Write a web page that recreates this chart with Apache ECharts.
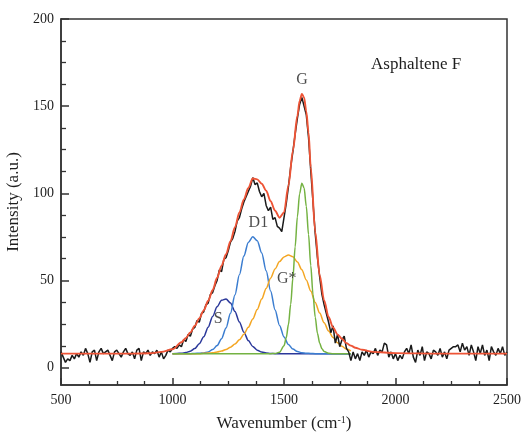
<!DOCTYPE html>
<html><head><meta charset="utf-8">
<script src="https://cdn.jsdelivr.net/npm/echarts@6/dist/echarts.min.js"></script>
<style>html,body{margin:0;padding:0;background:#fff}#c{width:529px;height:434px}</style>
</head><body><div id="c"></div>
<script>
// ---- data ----
const xTicks = [500, 1000, 1500, 2000, 2500];
const yTicks = [0, 50, 100, 150, 200];
const yMinorTicks = [12.5, 25, 37.5, 62.5, 75, 87.5, 112.5, 125, 137.5, 162.5, 175, 187.5];

const rawX = [500,510,520,530,540,550,560,570,580,590,600,610,620,630,640,650,660,670,680,690,700,710,720,730,740,750,760,770,780,790,800,810,820,830,840,850,860,870,880,890,900,910,920,930,940,950,960,970,980,990,1000,1010,1020,1030,1040,1050,1060,1070,1080,1090,1100,1110,1120,1130,1140,1150,1160,1170,1180,1190,1200,1210,1220,1230,1240,1250,1260,1270,1280,1290,1300,1310,1320,1330,1340,1350,1360,1370,1380,1390,1400,1410,1420,1430,1440,1450,1460,1470,1480,1490,1500,1510,1520,1530,1540,1550,1560,1570,1580,1590,1600,1610,1620,1630,1640,1650,1660,1670,1680,1690,1700,1710,1720,1730,1740,1750,1760,1770,1780,1790,1800,1810,1820,1830,1840,1850,1860,1870,1880,1890,1900,1910,1920,1930,1940,1950,1960,1970,1980,1990,2000,2010,2020,2030,2040,2050,2060,2070,2080,2090,2100,2110,2120,2130,2140,2150,2160,2170,2180,2190,2200,2210,2220,2230,2240,2250,2260,2270,2280,2290,2300,2310,2320,2330,2340,2350,2360,2370,2380,2390,2400,2410,2420,2430,2440,2450,2460,2470,2480,2490,2500];
const rawY = [9,6,3,5,4,7,5,8,6,9,
  7,11,8,3,9,10,4,9,11,8,
  9,10,7,4,9,10,8,6,9,11,
  8,7,9,5,10,11,4,9,8,10,
  7,9,8,10,6,9,5,7,10,9,
  11,12,11,13,12,16,15,19,18,22,
  23,27,26,31,32,36,37,42,43,47,
  50,56,55,62,63,67,72,74,78,84,
  86,91,95,98,101,104,109,105,106,101,
  98,100,93,90,92,85,86,81,80,78,
  86,94,104,115,124,134,143,151,155,150,
  145,132,113,95,77,63,52,42,36,31,
  26,20,24,14,19,12,16,18,11,9,
  4,9,5,8,4,9,7,10,6,9,
  8,11,7,10,9,14,13,6,9,5,
  8,4,7,5,9,11,8,13,6,3,
  10,7,12,4,9,8,5,10,9,7,
  11,6,9,5,10,11,12,12,13,9,
  14,10,12,7,13,9,4,12,8,13,
  7,10,4,12,9,7,11,8,12,7,
  9];

const fitX = [500,600,700,800,900,950,1000,1040,1060,1080,1100,1120,1140,1160,1180,1200,1220,1240,1260,1280,1300,1320,1340,1360,1380,1400,1420,1440,1460,1480,1500,1520,1540,1560,1570,1580,1590,1600,1610,1620,1640,1660,1680,1700,1720,1740,1760,1780,1800,1820,1850,1900,2000,2200,2500];
const fitY = [8,8,8,8,8.2,9.0,10.5,14.5,17,20.2,24,28.2,32.8,38.3,44.5,51.5,58.5,65,72.5,80.5,89,96.5,103,108.5,108,105.5,101.5,95.5,90,86,89,104.5,124.5,144.5,153,157,155,147,135,115,78,53,38.5,29,23,19,16.5,14,12.6,11.4,10.2,9,8.3,8,8];

const compX = [1000,1020,1040,1060,1080,1100,1120,1140,1160,1180,1200,1220,1240,1260,1280,1300,1320,1340,1360,1380,1400,1420,1440,1460,1480,1500,1520,1540,1560,1580,1600,1620,1640,1660,1680,1700,1720,1740,1760,1780,1800];
const sY = [8,8.1,8.2,8.6,9.4,10.9,13.6,17.7,23.2,29.3,34.9,38.6,39.4,37.0,32.2,26.2,20.3,15.5,12.1,10.0,8.9,8.4,8.1,8,8,8,8,8,8,8,8,8,8,8,8,8,8,8,8,8,8];
const d1Y = [8,8,8,8,8,8.1,8.2,8.4,9.0,10.3,12.6,16.6,22.7,31.2,41.7,53.3,64.0,71.8,75.0,72.8,65.8,55.5,44.0,33.1,24.2,17.6,13.2,10.6,9.2,8.5,8.2,8.1,8,8,8,8,8,8,8,8,8];
const gStarY = [8,8,8,8,8,8,8,8.2,8.3,8.5,8.9,9.5,10.4,11.7,13.5,15.9,19.1,23.1,27.9,33.3,39.3,45.4,51.3,56.6,60.8,63.5,64.6,63.6,60.6,56.1,50.3,43.9,37.4,31.3,25.7,21.0,17.2,14.3,12.2,10.6,9.6];
const gX = [1000,1440,1460,1480,1500,1510,1520,1530,1540,1550,1560,1570,1580,1590,1600,1610,1620,1630,1640,1650,1660,1670,1680,1700,1720,1800];
const gY = [8,8,8.1,8.8,12.5,17.1,24.8,36.3,51.6,69.3,86.5,99.7,105.8,103.2,92.5,76.4,58.5,42.0,28.9,19.7,14.0,10.8,9.2,8.2,8,8];

const peakNames = ['S', 'D1', 'G*', 'G'];
const peakAtX = [1205, 1385, 1512, 1581];
const peakAtY = [27.7, 83, 51, 165];

// ---- chart ----
const serif = '"Liberation Serif","Times New Roman",serif';
const zip = (xs, ys) => xs.map((x, i) => [x, ys[i]]);
const axisCol = '#333';
const txtCol = '#1e1e1e';
const chart = echarts.init(document.getElementById('c'), null, {renderer: 'canvas'});
const comp = (name, xs, ys, color) => ({
  name, type: 'line', data: zip(xs, ys), showSymbol: false, smooth: 0.3, smoothMonotone: 'x',
  lineStyle: {color, width: 1.5}, z: 2, silent: true
});
chart.setOption({
  animation: false,
  backgroundColor: '#fff',
  title: {text: 'Asphaltene F', left: 366, top: 51,
    textStyle: {fontFamily: serif, fontSize: 17, fontWeight: 'normal', color: txtCol}},
  grid: {left: 61, right: 22, top: 19, bottom: 49, show: true, borderColor: axisCol, borderWidth: 1.5,
    outerBoundsMode: 'none', containLabel: false},
  xAxis: {
    type: 'value', min: 500, max: 2500, interval: 500,
    axisLine: {onZero: false, lineStyle: {color: axisCol, width: 1.5}},
    axisTick: {inside: true, length: 7, lineStyle: {color: axisCol, width: 1.5}},
    minorTick: {show: true, splitNumber: 4, length: 4, lineStyle: {color: axisCol, width: 1.3}},
    splitLine: {show: false}, minorSplitLine: {show: false},
    axisLabel: {fontFamily: serif, fontSize: 14, color: txtCol, margin: 8,
      formatter: v => String(v)},
    name: 'Wavenumber (cm{sup|-1})', nameLocation: 'middle', nameGap: 30,
    nameTextStyle: {fontFamily: serif, fontSize: 17, color: txtCol,
      rich: {sup: {fontFamily: serif, fontSize: 10, color: txtCol, verticalAlign: 'top', padding: [0, 0, 8, 0]}}}
  },
  yAxis: [{
    type: 'value', min: -10, max: 200,
    axisLine: {show: true, onZero: false, lineStyle: {color: axisCol, width: 1.5}},
    axisTick: {show: true, inside: true, length: 8, customValues: yTicks, lineStyle: {color: axisCol, width: 1.5}},
    axisLabel: {fontFamily: serif, fontSize: 14, color: txtCol, margin: 7, customValues: yTicks},
    splitLine: {show: false},
    name: 'Intensity (a.u.)', nameLocation: 'middle', nameGap: 37, nameRotate: 90,
    nameTextStyle: {fontFamily: serif, fontSize: 17, color: txtCol}
  }, {
    type: 'value', min: -10, max: 200, position: 'left',
    axisLine: {show: false, onZero: false},
    axisTick: {show: true, inside: true, length: 5, customValues: yMinorTicks, lineStyle: {color: axisCol, width: 1.3}},
    axisLabel: {show: false}, splitLine: {show: false}
  }],
  series: [
    comp('S', compX, sY, '#2b389a'),
    comp('D1', compX, d1Y, '#3b7dd0'),
    comp('G*', compX, gStarY, '#f4a623'),
    comp('G', gX, gY, '#74b242'),
    {name: 'data', type: 'line', data: zip(rawX, rawY), showSymbol: false,
      lineStyle: {color: '#1a1a1a', width: 1.5}, z: 3, silent: true},
    {name: 'fit', type: 'line', data: zip(fitX, fitY), showSymbol: false, smooth: 0.3, smoothMonotone: 'x',
      lineStyle: {color: '#ee5436', width: 1.9}, z: 4, silent: true},
    {name: 'labels', type: 'scatter', symbolSize: 1, itemStyle: {color: 'rgba(0,0,0,0)'}, z: 5, silent: true,
      data: peakNames.map((n, i) => ({name: n, value: [peakAtX[i], peakAtY[i]]})),
      label: {show: true, position: 'inside', formatter: '{b}', fontFamily: serif, fontSize: 16, color: txtCol}}
  ]
});
</script></body></html>
